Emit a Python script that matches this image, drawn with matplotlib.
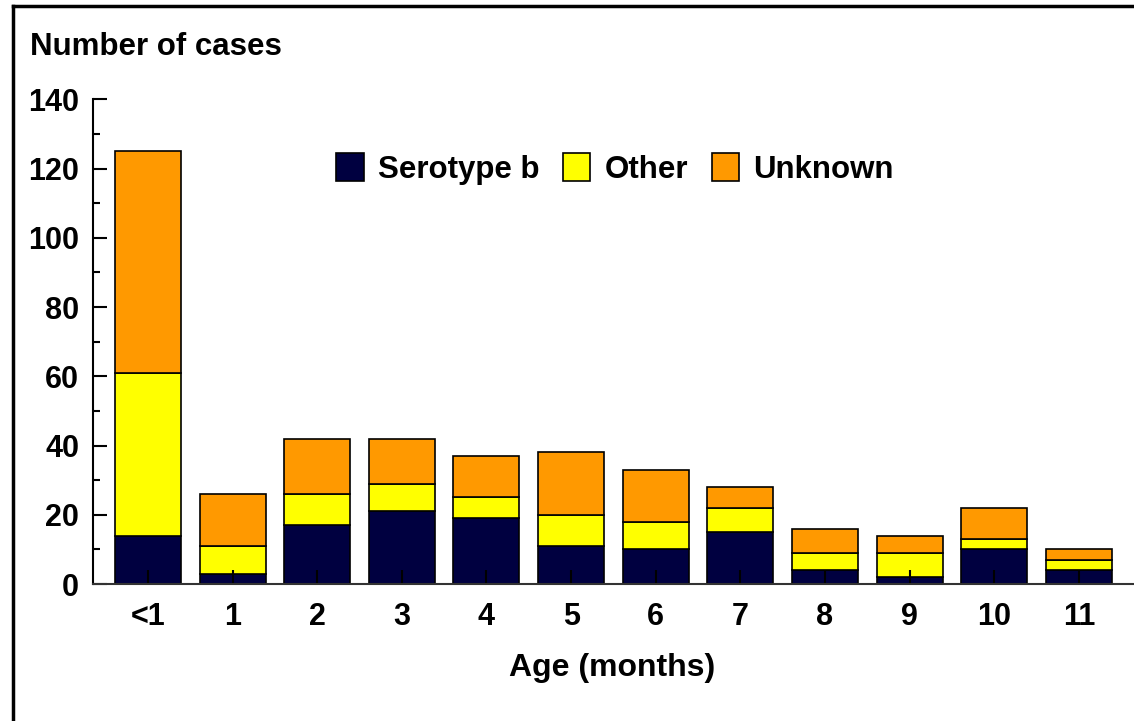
import numpy as np
import matplotlib
matplotlib.use("Agg")
import matplotlib.pyplot as plt
from matplotlib.lines import Line2D

plt.rcParams['font.family'] = ['Liberation Sans', 'DejaVu Sans']

ages = ['<1', '1', '2', '3', '4', '5', '6', '7', '8', '9', '10', '11']
serotype_b = [14, 3, 17, 21, 19, 11, 10, 15, 4, 2, 10, 4]
other = [47, 8, 9, 8, 6, 9, 8, 7, 5, 7, 3, 3]
unknown = [64, 15, 16, 13, 12, 18, 15, 6, 7, 5, 9, 3]

W, H = 1134, 721
fig = plt.figure(figsize=(W / 100, H / 100), dpi=100)
ax = fig.add_axes([93 / W, 1 - 584 / H, (1133 - 93) / W, (584 - 99.3) / H])

x = np.arange(len(ages))
sb = np.array(serotype_b)
ot = np.array(other)
un = np.array(unknown)

bw = 0.78
ax.bar(x, sb, bw, color='#000040', edgecolor='black', linewidth=1.2, label='Serotype b')
ax.bar(x, ot, bw, bottom=sb, color='#FFFF00', edgecolor='black', linewidth=1.2, label='Other')
ax.bar(x, un, bw, bottom=sb + ot, color='#FF9900', edgecolor='black', linewidth=1.2, label='Unknown')

ax.set_xlim(-0.65, 11.64)
ax.set_ylim(0, 140)
ax.set_yticks(np.arange(0, 141, 20))
ax.set_yticks(np.arange(10, 140, 20), minor=True)
ax.set_xticks(x)
ax.set_xticklabels(ages)

for s in ['top', 'right']:
    ax.spines[s].set_visible(False)
ax.spines['left'].set_linewidth(1.5)
ax.spines['bottom'].set_linewidth(1.5)
ax.spines['bottom'].set_color('#333333')

ax.tick_params(axis='y', which='major', direction='in', length=10, width=1.5,
               pad=10, labelsize=22)
ax.tick_params(axis='y', which='minor', direction='in', length=5, width=1.5)
ax.tick_params(axis='x', direction='in', length=10, width=1.5, pad=13, labelsize=22)
for lab in ax.get_yticklabels() + ax.get_xticklabels():
    lab.set_fontweight('bold')

fs = 30.6
ax.legend(ncol=3, frameon=False, loc='upper left',
          bbox_to_anchor=(336 / W, 1 - 153 / H), bbox_transform=fig.transFigure,
          borderpad=0, borderaxespad=0, handlelength=27 / fs, handleheight=31 / fs,
          handletextpad=14 / fs, columnspacing=23 / fs,
          prop=dict(weight='bold', size=22.5))

fig.text(30 / W, 1 - 47 / H, 'Number of cases', ha='left', va='center',
         fontsize=22.5, fontweight='bold')
fig.text(612 / W, 1 - 668 / H, 'Age (months)', ha='center', va='center',
         fontsize=23, fontweight='bold')

# frame around the picture (left and top edges)
fig.add_artist(Line2D([13 / W, 13 / W], [0, 1 - 6 / H], transform=fig.transFigure,
                      color='black', linewidth=2.5))
fig.add_artist(Line2D([13 / W, 1], [1 - 6 / H, 1 - 6 / H], transform=fig.transFigure,
                      color='black', linewidth=2.5))

fig.savefig('out.png', dpi=100)
